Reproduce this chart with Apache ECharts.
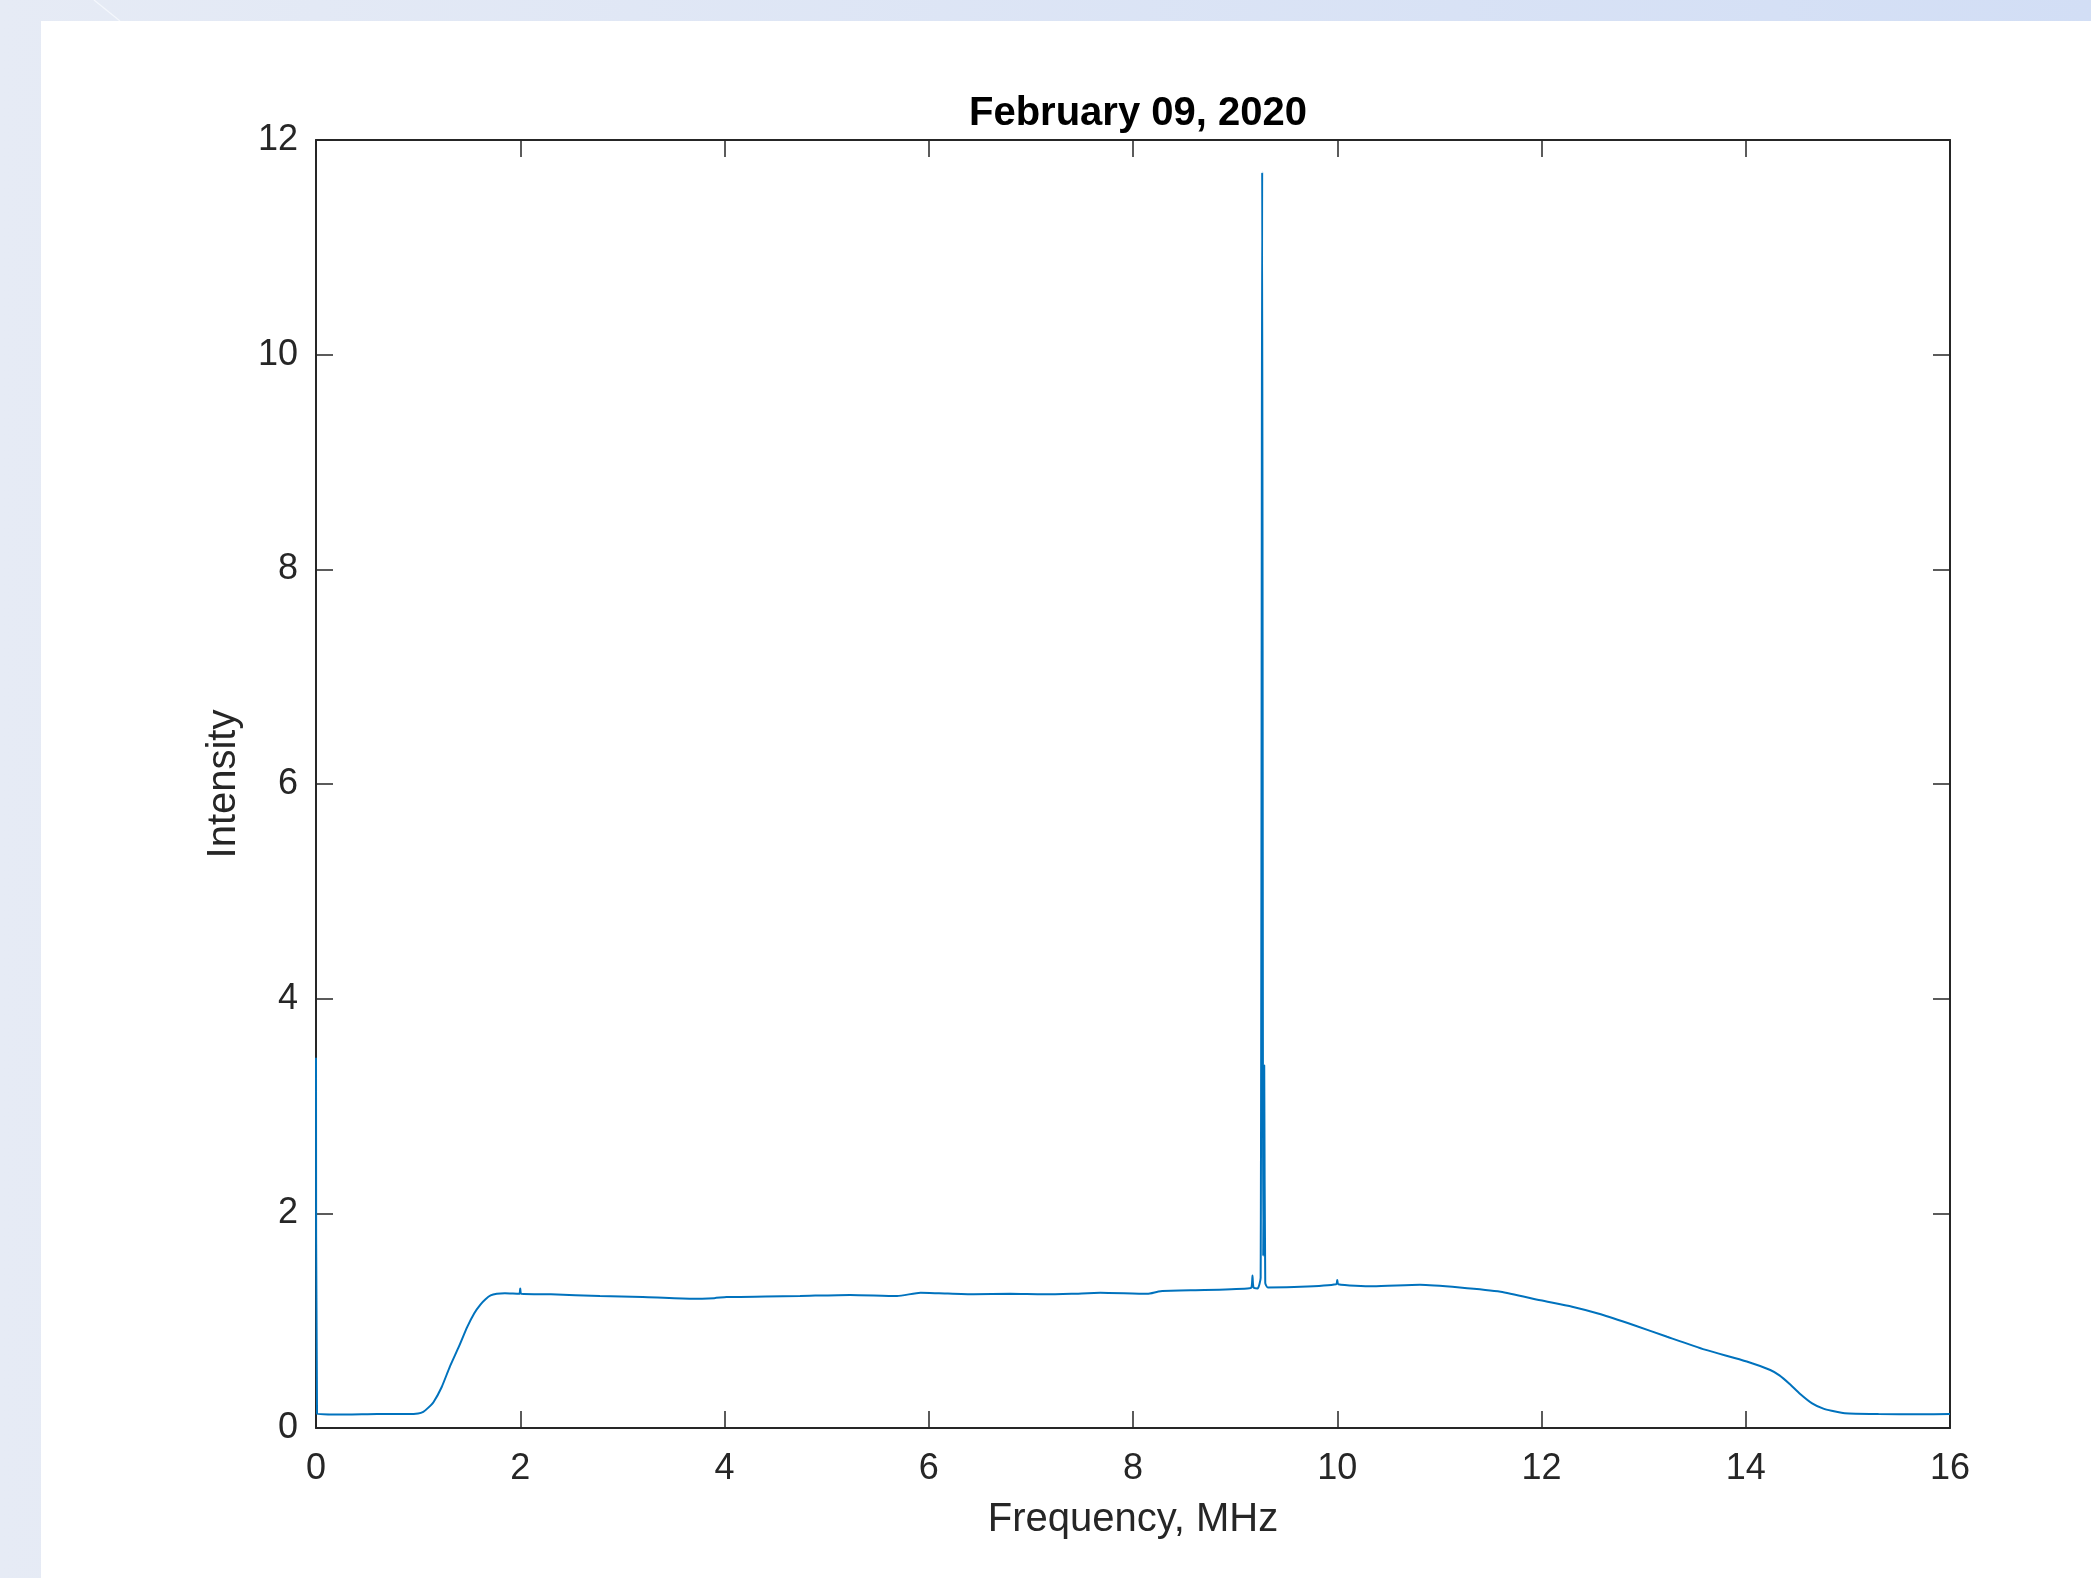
<!DOCTYPE html>
<html>
<head>
<meta charset="utf-8">
<title>February 09, 2020</title>
<script src="https://cdn.jsdelivr.net/npm/echarts@6/dist/echarts.min.js"></script>
<style>
  html, body {
    margin: 0;
    padding: 0;
    width: 2091px;
    height: 1578px;
    overflow: hidden;
    background: linear-gradient(to right, #e6ebf5, #d2def5);
  }
  #panel {
    position: absolute;
    left: 41px;
    top: 21px;
    right: 0;
    bottom: 0;
    background: #ffffff;
  }
  #deco {
    position: absolute;
    left: 0;
    top: 0;
  }
  #main {
    position: absolute;
    left: 0;
    top: 0;
    width: 2091px;
    height: 1578px;
  }
</style>
</head>
<body>
<svg id="deco" width="140" height="22"><line x1="94" y1="0" x2="120" y2="21" stroke="#f4f7fc" stroke-width="1.2"/></svg>
<div id="panel"></div>
<div id="main"></div>
<script>
// spectrum (MHz, intensity)
var freq = [
  0.00, 0.01, 0.30, 0.60, 0.90, 1.00, 1.05, 1.10, 1.15, 1.23, 1.31,
  1.40, 1.48, 1.55, 1.61, 1.66, 1.71, 1.77, 1.85, 1.99, 2.00, 2.01,
  2.30, 2.78, 3.20, 3.66, 3.90, 4.02, 4.40, 4.74, 5.23, 5.69,
  5.92, 6.10, 6.44, 6.80, 7.12, 7.40, 7.68, 8.14, 8.27, 8.70,
  9.12, 9.16, 9.17, 9.18, 9.22, 9.25, 9.265, 9.275, 9.285, 9.295,
  9.32, 9.64, 9.99, 10.00, 10.01, 10.35, 10.81, 11.20, 11.60, 11.99,
  12.30, 12.58, 12.90, 13.23, 13.60, 14.01, 14.24, 14.33, 14.43, 14.53, 14.65,
  14.76, 14.84, 14.97, 15.30, 15.70, 16.00
]
var intensity = [
  3.45, 0.13, 0.125, 0.13, 0.13, 0.135, 0.15, 0.19, 0.24, 0.38, 0.57,
  0.76, 0.94, 1.07, 1.15, 1.20, 1.235, 1.25, 1.255, 1.25, 1.30, 1.25,
  1.245, 1.23, 1.22, 1.205, 1.21, 1.22, 1.225, 1.23, 1.24, 1.23,
  1.26, 1.255, 1.245, 1.25, 1.245, 1.25, 1.26, 1.25, 1.275, 1.285,
  1.30, 1.31, 1.42, 1.31, 1.30, 1.40, 11.7, 1.6, 3.38, 1.35,
  1.31, 1.315, 1.34, 1.38, 1.34, 1.32, 1.335, 1.31, 1.27, 1.19,
  1.13, 1.06, 0.96, 0.85, 0.73, 0.62, 0.54, 0.49, 0.41, 0.32, 0.23,
  0.18, 0.16, 0.137, 0.13, 0.128, 0.13
]
var xTicks = [0, 16, 2]   // min, max, step
var yTicks = [0, 12, 2]

var axisColor = '#262626'
var fontFam = 'Liberation Sans, Arial, Helvetica, sans-serif'

var points = freq.map(function (f, i) { return [f, intensity[i]] })

function boxAxis(range, extra) {
  var ax = {
    type: 'value',
    min: range[0],
    max: range[1],
    interval: range[2],
    splitLine: {show: false},
    axisLine: {show: true, onZero: false, lineStyle: {color: axisColor, width: 2}},
    axisTick: {show: true, inside: true, length: 17, lineStyle: {color: axisColor, width: 1.5}},
    axisLabel: {show: false}
  }
  return Object.assign(ax, extra)
}

var chart = echarts.init(document.getElementById('main'), null, {renderer: 'canvas'})
chart.setOption({
  animation: false,
  title: {
    text: 'February 09, 2020',
    left: 1133,
    top: 89,
    textAlign: 'center',
    textStyle: {color: '#000', fontWeight: 'bold', fontSize: 40, fontFamily: fontFam}
  },
  grid: {left: 316, top: 140, width: 1634, height: 1288},
  xAxis: [
    boxAxis(xTicks, {
      position: 'bottom',
      name: 'Frequency, MHz',
      nameLocation: 'middle',
      nameGap: 72,
      nameTextStyle: {color: axisColor, fontSize: 40, fontFamily: fontFam},
      axisLabel: {show: true, color: axisColor, fontSize: 36, margin: 23, fontFamily: fontFam,
        showMinLabel: true, showMaxLabel: true}
    }),
    boxAxis(xTicks, {position: 'top'})
  ],
  yAxis: [
    boxAxis(yTicks, {
      position: 'left',
      name: 'Intensity',
      nameLocation: 'middle',
      nameGap: 72,
      nameTextStyle: {color: axisColor, fontSize: 40, fontFamily: fontFam},
      axisLabel: {show: true, color: axisColor, fontSize: 36, margin: 18, fontFamily: fontFam,
        showMinLabel: true, showMaxLabel: true}
    }),
    boxAxis(yTicks, {position: 'right'})
  ],
  series: [{
    type: 'line',
    xAxisIndex: 0,
    yAxisIndex: 0,
    data: points,
    showSymbol: false,
    symbol: 'none',
    smooth: 0.2,
    lineStyle: {color: '#0072BD', width: 2},
    z: 1
  }]
})
</script>
</body>
</html>
